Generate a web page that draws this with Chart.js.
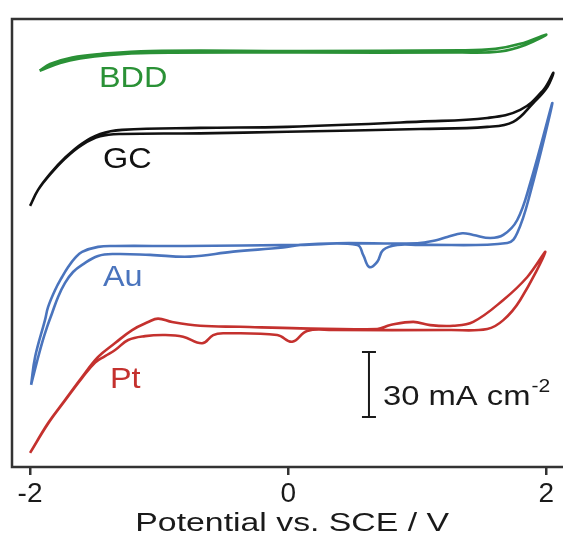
<!DOCTYPE html>
<html>
<head>
<meta charset="utf-8">
<title>CV comparison</title>
<script src="https://cdn.jsdelivr.net/npm/chart.js@4.4.1/dist/chart.umd.min.js"></script>
<style>
  html, body { margin: 0; padding: 0; background: #fff; overflow: hidden; }
  #wrap { width: 600px; height: 539px; }
</style>
</head>
<body>
<div id="wrap"><canvas id="cv" width="600" height="539"></canvas></div>
<script>
// ===============================
// Data: potential (V vs SCE) and current density (mA cm-2),
// current relative to each trace's own baseline
// ===============================
const xTicks = [-2, 0, 2];

// BDD (forward, then back)
const bddV = [-1.926, -1.767, -1.612, -1.380, -1.070, 0.093, 1.333, 1.643, 1.837, 2.0,
              1.798, 1.605, 1.333, 0.093, -1.070, -1.457, -1.674, -1.845, -1.926];
const bddJ = [-8.9, -5.3, -3.2, -1.6, -0.7, -0.5, -0.5, 0, 3.0, 7.8,
              3.5, 1.2, 0.5, 0.2, 0.2, -1.2, -2.8, -5.8, -8.9];

// GC
const gcV = [-2.0, -1.938, -1.845, -1.729, -1.597, -1.457, -1.287, -0.682, -0.008, 1.023, 1.543, 1.744, 1.899, 2.008, 2.054,
             1.977, 1.798, 1.543, 1.023, -0.008, -0.682, -1.287, -1.457, -1.597, -1.729, -1.845, -1.938, -2.0];
const gcJ = [-36.0, -28.6, -21.5, -14.1, -7.8, -3.9, -2.8, -2.5, -1.8, -0.5, 0.5, 2.8, 11.5, 18.9, 25.4,
             17.5, 8.3, 4.6, 2.9, 0.5, 0, -0.9, -2.8, -7.2, -13.8, -21.2, -28.6, -36.0];

// Au
const auV = [-1.992, -1.953, -1.907, -1.868, -1.829, -1.783, -1.729, -1.667, -1.597, -1.473, -1.341, -1.070, -0.760,
             -0.426, -0.039, 0.093, 0.380, 1.0, 1.155, 1.233, 1.349, 1.434, 1.566, 1.667, 1.775, 1.876, 2.047,
             1.876, 1.775, 1.698, 1.023, 0.845, 0.736, 0.690, 0.628, 0.581, 0.535, 0.093, -0.798,
             -1.341, -1.473, -1.597, -1.651, -1.705, -1.752, -1.806, -1.860, -1.884, -1.961, -1.992];
const auJ = [-64.6, -55.4, -45.2, -37.8, -31.4, -24.0, -17.5, -12.5, -9.2, -5.1, -4.2, -4.6, -5.4,
             -3.1, -1.2, 0, 0.8, 0.8, 2.3, 3.7, 5.4, 4.6, 3.2, 4.6, 11.5, 28.6, 65.5,
             24.0, 5.5, 0.9, 0, 0, -2.3, -7.8, -10.2, -4.6, 0, 0, -0.5,
             -0.5, -0.9, -3.2, -6.0, -10.2, -14.8, -20.8, -28.6, -34.6, -51.7, -64.6];

// Pt
const ptV = [-2.0, -1.860, -1.729, -1.597, -1.473, -1.341, -1.209, -1.085, -1.008, -0.899, -0.682, -0.372, 0.093,
             0.690, 0.791, 0.969, 1.101, 1.279, 1.434, 1.667, 1.853, 1.992,
             1.798, 1.667, 1.543, 1.256, 0.349, 0.147, 0.031, -0.085, -0.504, -0.581, -0.667, -0.814,
             -0.953, -1.109, -1.240, -1.341, -1.419, -1.496, -1.597, -1.729, -1.860, -2.0];
const ptJ = [-58.1, -44.3, -33.7, -23.1, -13.8, -7.4, -1.4, 2.3, 3.9, 2.3, 0.6, 0.1, -0.6,
             -0.9, 0.9, 2.4, 0.9, 0.6, 2.4, 12.5, 23.1, 34.6,
             12.5, 3.2, -0.9, -1.4, -1.4, -1.8, -6.8, -3.7, -2.9, -3.7, -7.5, -4.5,
             -3.7, -4.2, -6.0, -10.6, -13.4, -16.4, -23.5, -33.9, -44.5, -58.1];

// vertical offsets of the stacked traces (mA cm-2)
const traceNames = ["BDD", "GC", "Au", "Pt"];
const traceOffsets = [191.8, 156.5, 102.5, 64.6];
const scaleBarValue = 30; // mA cm-2

// ===============================
// Styling / layout
// ===============================
const FONT = "'Liberation Sans', Arial, Helvetica, sans-serif";
const traceColors = ["#2a9136", "#111111", "#4a74bd", "#c4312e"];
const X_MIN = -2.14, X_MAX = 2.30;
const Y_MAX = 206.77;

// label anchors (left/baseline) in data units
const labelPos = [
  { x: -1.466, y: 175.4 },
  { x: -1.435, y: 138.0 },
  { x: -1.435, y: 83.5 },
  { x: -1.381, y: 36.5 }
];
const scaleBarPos = { x: 0.626, y: 23.1, textX: 0.735, textY: 28.6 };
const axisTitle = "Potential vs. SCE / V";

function toPoints(v, j, off) {
  return v.map((p, i) => ({ x: p, y: j[i] + off }));
}

const series = [[bddV, bddJ], [gcV, gcJ], [auV, auJ], [ptV, ptJ]];

function drawStretched(ctx, text, px, py, sx) {
  ctx.save();
  ctx.translate(px, py);
  ctx.scale(sx, 1);
  ctx.fillText(text, 0, 0);
  ctx.restore();
}

// frame, trace labels, scale bar, axis title
const annotations = {
  id: "cvAnnotations",
  afterDraw(chart) {
    const { ctx, chartArea: a, scales: { x, y } } = chart;
    ctx.save();
    ctx.strokeStyle = "#333";
    ctx.lineWidth = 2.5;
    ctx.strokeRect(a.left, a.top, a.right - a.left, a.bottom - a.top);

    ctx.textAlign = "left";
    ctx.textBaseline = "alphabetic";
    ctx.font = `30px ${FONT}`;
    traceNames.forEach((name, i) => {
      ctx.fillStyle = traceColors[i];
      drawStretched(ctx, name, x.getPixelForValue(labelPos[i].x), y.getPixelForValue(labelPos[i].y), 1.08);
    });

    // scale bar
    const bx = x.getPixelForValue(scaleBarPos.x);
    const by0 = y.getPixelForValue(scaleBarPos.y);
    const by1 = y.getPixelForValue(scaleBarPos.y + scaleBarValue);
    ctx.strokeStyle = "#1a1a1a";
    ctx.lineWidth = 2;
    ctx.beginPath();
    ctx.moveTo(bx, by0); ctx.lineTo(bx, by1);
    ctx.moveTo(bx - 7, by0); ctx.lineTo(bx + 7, by0);
    ctx.moveTo(bx - 7, by1); ctx.lineTo(bx + 7, by1);
    ctx.stroke();

    ctx.fillStyle = "#1a1a1a";
    ctx.font = `28px ${FONT}`;
    const tx = x.getPixelForValue(scaleBarPos.textX);
    const ty = y.getPixelForValue(scaleBarPos.textY);
    const main = `${scaleBarValue} mA cm`;
    const sx = 1.17;
    drawStretched(ctx, main, tx, ty, sx);
    const w = ctx.measureText(main).width * sx;
    ctx.font = `18px ${FONT}`;
    drawStretched(ctx, "-2", tx + w + 1, ty - 13, sx);

    // axis title
    ctx.font = `26px ${FONT}`;
    ctx.textAlign = "center";
    const cx = (x.getPixelForValue(-2) + x.getPixelForValue(2)) / 2 + 4;
    drawStretched(ctx, axisTitle, cx, a.bottom + 64, 1.3);
    ctx.restore();
  }
};

const datasets = series.map((s, i) => ({
  label: traceNames[i],
  data: toPoints(s[0], s[1], traceOffsets[i]),
  borderColor: traceColors[i],
  borderWidth: 2.6,
  pointRadius: 0,
  showLine: true,
  fill: false,
  tension: 0.4
}));

new Chart(document.getElementById("cv"), {
  type: "scatter",
  data: { datasets },
  options: {
    responsive: false,
    animation: false,
    events: [],
    layout: { padding: { left: 12, top: 19, right: 15, bottom: 0 } },
    plugins: { legend: { display: false }, tooltip: { enabled: false } },
    scales: {
      x: {
        type: "linear",
        min: X_MIN,
        max: X_MAX,
        afterBuildTicks: s => { s.ticks = xTicks.map(v => ({ value: v })); },
        afterFit: s => { s.height = 72; },
        grid: {
          display: true,
          drawOnChartArea: false,
          drawTicks: true,
          tickLength: 8,
          tickWidth: 2.5,
          tickColor: "#333",
          color: "#333",
          lineWidth: 2.5
        },
        border: { display: false },
        ticks: {
          font: { family: FONT, size: 28 },
          color: "#1a1a1a",
          padding: 2,
          maxRotation: 0,
          callback: v => String(v)
        }
      },
      y: { display: false, min: 0, max: Y_MAX }
    }
  },
  plugins: [annotations]
});
</script>
</body>
</html>
